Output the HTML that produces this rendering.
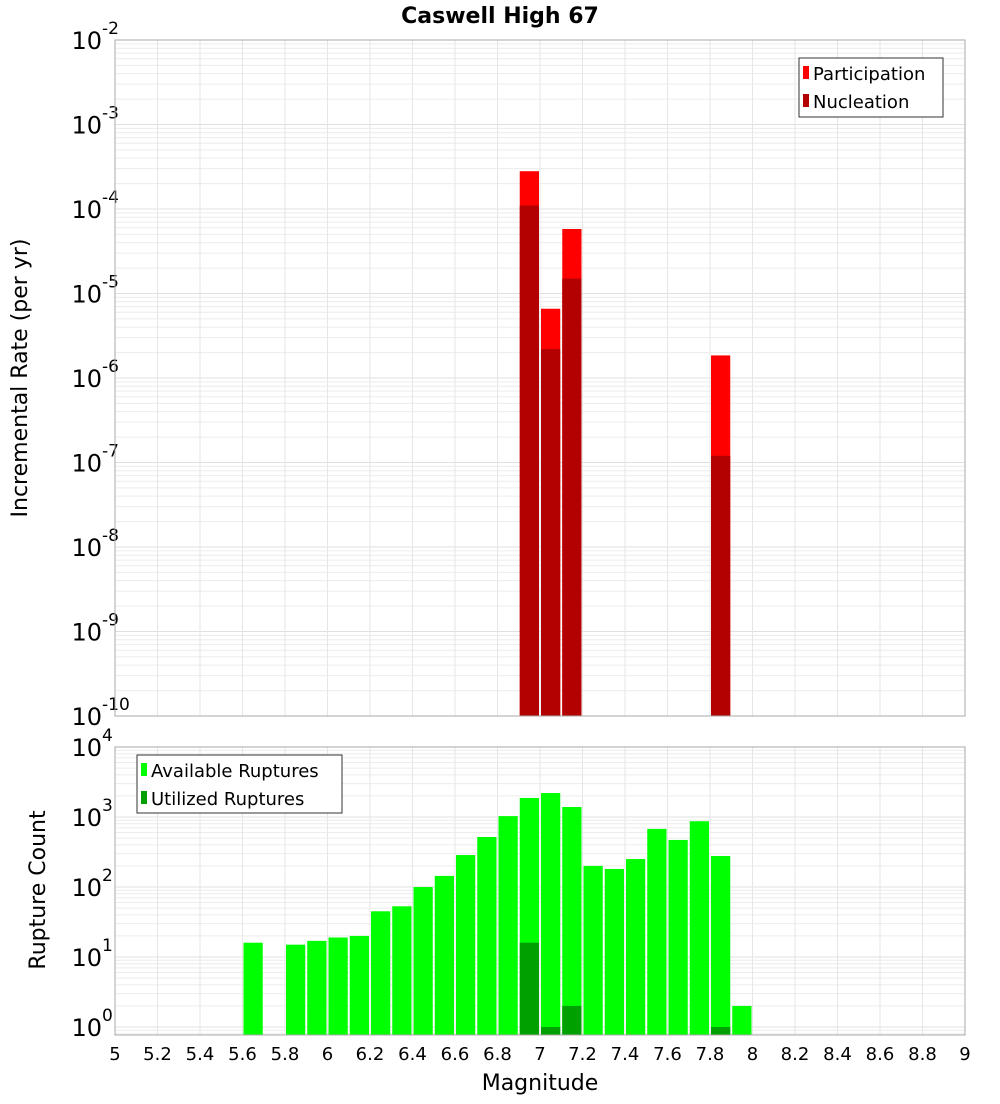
<!DOCTYPE html>
<html><head><meta charset="utf-8"><style>
body{margin:0;background:#fff;font-family:"DejaVu Sans","Liberation Sans",sans-serif;}
svg text{font-family:"DejaVu Sans","Liberation Sans",sans-serif;}
</style></head><body>
<svg id="c" width="1000" height="1100" xmlns="http://www.w3.org/2000/svg">
<text x="500" y="23" text-anchor="middle" font-size="22" font-weight="bold">Caswell High 67</text>
<g id="gtop"></g>
<g id="gbot"></g>
<text transform="translate(27,378) rotate(-90)" text-anchor="middle" font-size="22">Incremental Rate (per yr)</text>
<text transform="translate(45,890) rotate(-90)" text-anchor="middle" font-size="22">Rupture Count</text>
<text x="540" y="1090" text-anchor="middle" font-size="22">Magnitude</text>
<g>
<rect x="799" y="58" width="144" height="59" fill="#fff" stroke="#333"/>
<rect x="803" y="66" width="6" height="13" fill="#ff0000"/>
<text x="813" y="80" font-size="18">Participation</text>
<rect x="803" y="94" width="6" height="13" fill="#b30000"/>
<text x="813" y="108" font-size="18">Nucleation</text>
</g>
<g>
<rect x="137" y="755" width="205" height="58" fill="#fff" stroke="#333"/>
<rect x="141" y="763" width="6" height="13" fill="#00ff00"/>
<text x="151" y="777" font-size="18">Available Ruptures</text>
<rect x="141" y="791" width="6" height="13" fill="#00a000"/>
<text x="151" y="805" font-size="18">Utilized Ruptures</text>
</g>
</svg>
<script>
const rateMags=[6.95,7.05,7.15,7.85];
const participation=[2.8e-4,6.6e-6,5.8e-5,1.85e-6];
const nucleation=[1.1e-4,2.2e-6,1.5e-5,1.2e-7];
const countMags=[5.65,5.85,5.95,6.05,6.15,6.25,6.35,6.45,6.55,6.65,6.75,6.85,6.95,7.05,7.15,7.25,7.35,7.45,7.55,7.65,7.75,7.85,7.95];
const available=[16,15,17,19,20,45,53,100,144,286,518,1030,1870,2200,1390,200,181,251,676,470,870,277,2];
const utilizedMags=[6.95,7.05,7.15,7.85];
const utilized=[16,1,2,1];
const xTicks=[5,5.2,5.4,5.6,5.8,6,6.2,6.4,6.6,6.8,7,7.2,7.4,7.6,7.8,8,8.2,8.4,8.6,8.8,9];
const rateExps=[-10,-9,-8,-7,-6,-5,-4,-3,-2];
const countExps=[0,1,2,3,4];
const NS="http://www.w3.org/2000/svg";
const X0=115,X1=965;
const xs=m=>X0+(m-5)/4*(X1-X0);
const yTop=v=>40+(-2-Math.log10(v))*84.5;
const yBot=v=>747+(4-Math.log10(v))*70;
function mk(p,t,a){const e=document.createElementNS(NS,t);for(const k in a)e.setAttribute(k,a[k]);p.appendChild(e);return e;}
function panel(g,t0,b0,ys,exps,name){
  mk(g,'rect',{x:X0,y:t0,width:X1-X0,height:b0-t0,fill:'#fff'});
  for(let i=0;i<exps.length;i++){const e=exps[i];
    for(let k=1;k<10;k++){const y=ys(k*Math.pow(10,e));if(y<t0-0.5||y>b0+0.5)continue;
      const l=mk(g,'line',{x1:X0,x2:X1,y1:y,y2:y,stroke:k==1?'#e0e0e0':'#ececec','stroke-width':1});
      
      }
    for(let k=1;k<10&&i==0;k++){const y=ys(k*Math.pow(10,e-1));if(y<t0||y>b0)continue;
      mk(g,'line',{x1:X0,x2:X1,y1:y,y2:y,stroke:'#ececec'});}
  }
  xTicks.forEach(t=>{const l=mk(g,'line',{x1:xs(t),x2:xs(t),y1:t0,y2:b0,stroke:'#e6e6e6'});
    
    });
  exps.forEach(e=>{const y=ys(Math.pow(10,e));
    const t=mk(g,'text',{x:102,y:y+9,'text-anchor':'end','font-size':24});
    
    
    t.textContent='10';
    const s=mk(g,'text',{x:102,y:y-6,'font-size':17});s.textContent=String(e);
    
    });
}
const gTop=document.getElementById('gtop'),gBot=document.getElementById('gbot');
panel(gTop,40,716,yTop,rateExps,'rate');
panel(gBot,747,1035,yBot,countExps,'count');
const bw=(X1-X0)/40;
function bar(g,m,v,ys,base,fill,name){const y=ys(v);
  const r=mk(g,'rect',{x:xs(m)-bw/2+1,y:y,width:bw-2,height:base-y,fill:fill});
  
  }
rateMags.forEach((m,i)=>bar(gTop,m,participation[i],yTop,716,'#ff0000','participation-bar'));
rateMags.forEach((m,i)=>bar(gTop,m,nucleation[i],yTop,716,'#b30000','nucleation-bar'));
countMags.forEach((m,i)=>bar(gBot,m,available[i],yBot,1035,'#00ff00','available-bar'));
utilizedMags.forEach((m,i)=>bar(gBot,m,utilized[i],yBot,1035,'#00a000','utilized-bar'));
mk(gTop,'rect',{x:X0,y:40,width:X1-X0,height:676,fill:'none',stroke:'#aaa'});
mk(gBot,'rect',{x:X0,y:747,width:X1-X0,height:288,fill:'none',stroke:'#aaa'});
xTicks.forEach(t=>{const e=mk(gBot,'text',{x:xs(t),y:1060,'text-anchor':'middle','font-size':18});
  
  
  e.textContent=String(t);});
</script>
</body></html>
